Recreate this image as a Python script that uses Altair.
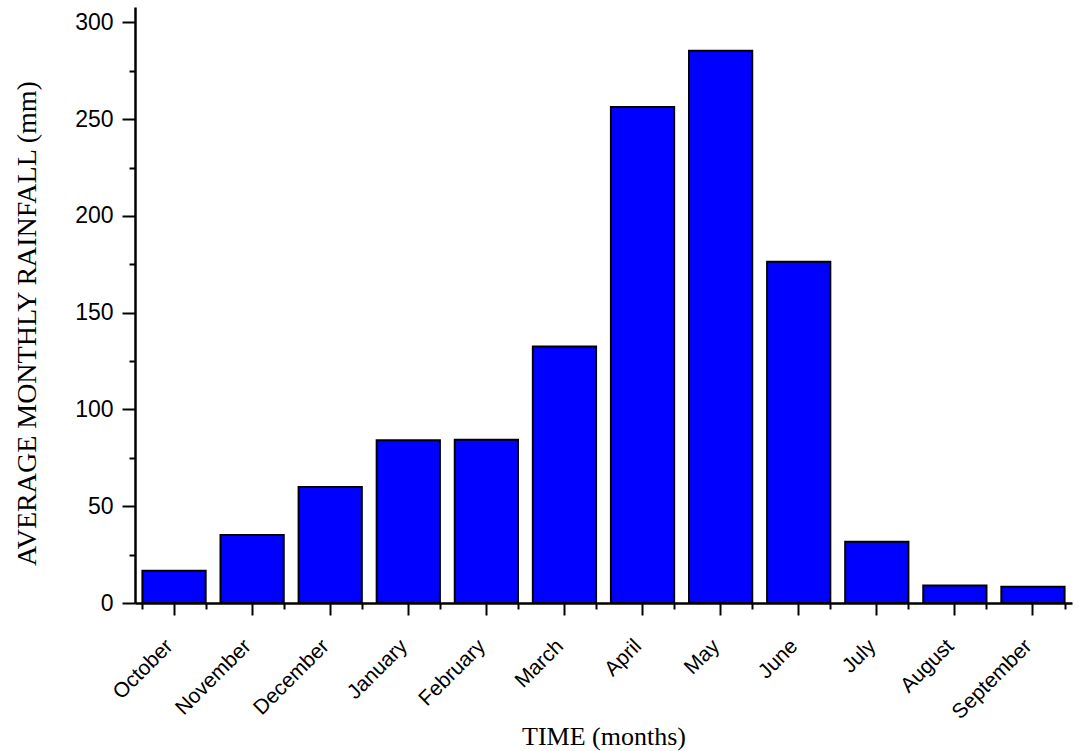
import altair as alt
import pandas as pd

# Average monthly rainfall over the hydrological year (October - September)
months = ["October", "November", "December", "January", "February", "March",
          "April", "May", "June", "July", "August", "September"]
rainfall_mm = [16.7, 35.2, 60.0, 84.1, 84.4, 132.5, 256.3, 285.4, 176.3, 31.7, 9.1, 8.4]

# y axis: labelled major ticks every 50, unlabelled minor ticks in between
y_tick_values = [0, 25, 50, 75, 100, 125, 150, 175, 200, 225, 250, 275, 300]
y_max = 308

df = pd.DataFrame({"month": months, "rainfall": rainfall_mm})

x_scale = alt.Scale(paddingInner=0.19, paddingOuter=0.095)
y_scale = alt.Scale(domain=[0, y_max], nice=False)

y_enc = alt.Y(
    "rainfall:Q", scale=y_scale,
    axis=alt.Axis(
        title="AVERAGE MONTHLY RAINFALL (mm)",
        values=y_tick_values,
        labelExpr="datum.value % 50 === 0 ? datum.label : ''",
        tickSize={"condition": {"test": "datum.value % 50 === 0", "value": 13}, "value": 6},
        tickWidth=2, tickColor="black",
        domainWidth=2.5, domainColor="black",
        labelFont="Liberation Sans", labelFontSize=23, labelColor="black",
        labelPadding=9, grid=False,
        titleFont="Liberation Serif", titleFontSize=28, titleFontWeight="normal",
        titleColor="black", titlePadding=33, titleY=316,
    ),
)

bars = alt.Chart(df).mark_bar(color="#0000FF", stroke="black", strokeWidth=2).encode(
    x=alt.X(
        "month:N", sort=months, scale=x_scale,
        axis=alt.Axis(
            orient="bottom", title="TIME (months)",
            labelAngle=-45, labelFont="Liberation Sans", labelFontSize=21,
            labelColor="black", labelPadding=20, labelOffset=-12,
            tickSize=12, tickWidth=2, tickColor="black",
            domainWidth=2.5, domainColor="black",
            titleFont="Liberation Serif", titleFontSize=26, titleFontWeight="normal",
            titleColor="black", titlePadding=1,
        ),
    ),
    y=y_enc,
)

# short ticks on the category boundaries of the x axis
boundary_ticks = alt.Chart(df).mark_bar(opacity=0).encode(
    x=alt.X(
        "month:N", sort=months, scale=x_scale,
        axis=alt.Axis(
            orient="bottom", title=None, labels=False, domain=False,
            tickBand="extent", tickSize=6, tickWidth=2, tickColor="black",
        ),
    ),
    y=y_enc,
)

chart = (
    alt.layer(bars, boundary_ticks)
    .resolve_axis(x="independent")
    .properties(width=937, height=596,
                padding={"left": 13, "top": 7, "right": 10, "bottom": 5})
    .configure_view(strokeWidth=0)
    .configure_axis(grid=False)
)

chart.save("out.html", embed_options={"renderer": "svg", "actions": False})
